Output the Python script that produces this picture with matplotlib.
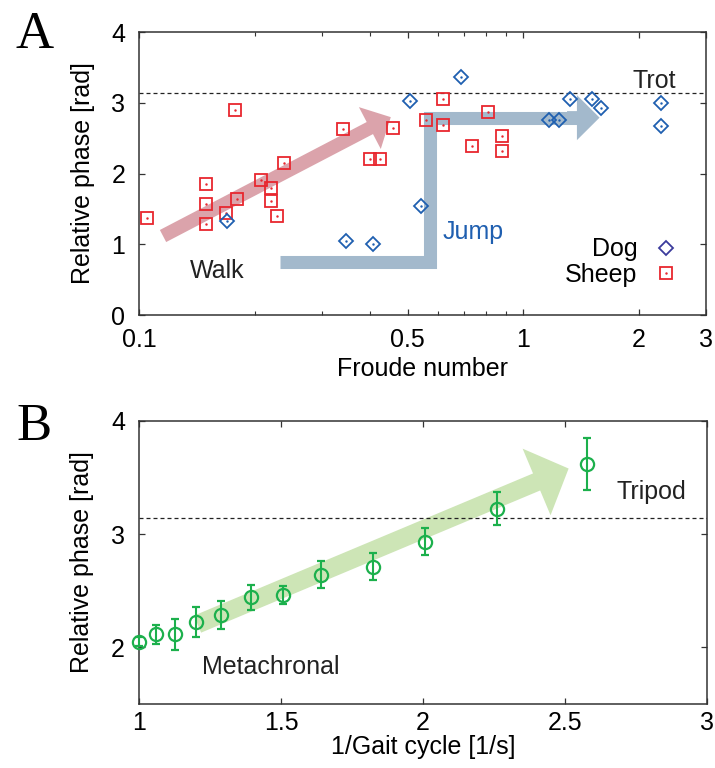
import matplotlib
matplotlib.use('Agg')
import matplotlib.pyplot as plt
import numpy as np
from matplotlib.lines import Line2D
from matplotlib.patches import FancyArrowPatch, ArrowStyle
from matplotlib.ticker import FixedLocator, NullFormatter

plt.rcParams['font.family'] = ['Liberation Sans', 'DejaVu Sans']
plt.rcParams['font.size'] = 18

# panel A: quadrupeds
sheep_fr = [0.105, 0.178, 0.149, 0.149, 0.149, 0.168, 0.180, 0.207, 0.220, 0.220, 0.229, 0.238,
            0.340, 0.399, 0.423, 0.458, 0.557, 0.618, 0.618, 0.810, 0.736, 0.880, 0.878]
sheep_ph = [1.375, 2.90, 1.85, 1.57, 1.28, 1.44, 1.64, 1.905, 1.80, 1.61, 1.40, 2.145,
            2.63, 2.205, 2.205, 2.64, 2.76, 3.056, 2.69, 2.863, 2.389, 2.53, 2.324]
dog_fr = [0.169, 0.345, 0.405, 0.508, 0.542, 0.688, 1.167, 1.242, 1.327, 1.509, 1.595, 2.288, 2.288]
dog_ph = [1.33, 1.05, 1.00, 3.03, 1.544, 3.37, 2.76, 2.76, 3.05, 3.05, 2.92, 3.0, 2.676]

# panel B: insect
gait_freq = [1.001, 1.060, 1.127, 1.200, 1.288, 1.393, 1.508, 1.641, 1.823, 2.007, 2.261, 2.576]
insect_ph = [2.048, 2.114, 2.114, 2.223, 2.285, 2.442, 2.462, 2.640, 2.711, 2.933, 3.225, 3.616]
insect_err = [0.04, 0.08, 0.135, 0.13, 0.12, 0.11, 0.083, 0.118, 0.118, 0.12, 0.146, 0.23]

xticks_a = [0.1, 0.5, 1, 2, 3]
xticklabels_a = ['0.1', '0.5', '1', '2', '3']
xminor_a = [0.2, 0.3, 0.4, 0.6, 0.7, 0.8, 0.9]

red = '#e8262e'
blue = '#1f5fb0'
green = '#1cb04c'
spine_c = '#333333'

fig = plt.figure(figsize=(7.15, 7.68), dpi=100)
axA = fig.add_axes([0.1948, 0.5898, 0.7933, 0.3685])
axB = fig.add_axes([0.1944, 0.0833, 0.7948, 0.3689])


def style_axes(ax, xpad):
    for s in ax.spines.values():
        s.set_color(spine_c)
        s.set_linewidth(1.1)
    ax.tick_params(which='both', direction='in', top=True, right=True, color=spine_c)
    ax.tick_params(which='major', length=4.5, width=0.9)
    ax.tick_params(which='minor', length=3, width=0.8)
    ax.tick_params(axis='x', pad=xpad)
    ax.tick_params(axis='y', pad=10)


# ---- A ----
axA.set_xscale('log')
axA.set_xlim(0.1, 3)
axA.set_ylim(0, 4)
axA.set_xticks(xticks_a)
axA.set_xticklabels(xticklabels_a)
axA.xaxis.set_minor_locator(FixedLocator(xminor_a))
axA.xaxis.set_minor_formatter(NullFormatter())
axA.set_yticks([0, 1, 2, 3, 4])
style_axes(axA, 9)

axA.axhline(np.pi, color='#222222', lw=0.9, dashes=(3.2, 2.4), zorder=2)

# walk arrow
axA.add_patch(FancyArrowPatch((0.1153, 1.117), (0.4518, 2.797),
                              arrowstyle=ArrowStyle.Simple(head_length=17, head_width=34, tail_width=9.8),
                              mutation_scale=1, shrinkA=0, shrinkB=0,
                              color='#dba3ab', lw=0, zorder=1))
# jump / trot step arrow
step_x = [0.233, 0.5713, 0.5713, 1.40]
step_y = [0.755, 0.755, 2.79, 2.79]
axA.plot(step_x, step_y, color='#a3b9cc', lw=9.4, solid_joinstyle='miter',
         solid_capstyle='butt', zorder=1)
axA.add_patch(FancyArrowPatch((1.30, 2.79), (1.58, 2.79),
                              arrowstyle=ArrowStyle.Simple(head_length=16.3, head_width=32.4, tail_width=9.4),
                              mutation_scale=1, shrinkA=0, shrinkB=0,
                              color='#a3b9cc', lw=0, zorder=1))

axA.plot(sheep_fr, sheep_ph, ls='', marker='s', ms=9, mfc='none', mec=red, mew=1.3, zorder=3)
axA.plot(sheep_fr, sheep_ph, ls='', marker='.', ms=1.5, color=red, zorder=3)
axA.plot(dog_fr, dog_ph, ls='', marker='D', ms=6.8, mfc='none', mec=blue, mew=1.3, zorder=3)
axA.plot(dog_fr, dog_ph, ls='', marker='.', ms=1.5, color=blue, zorder=3)

axA.text(2.5, 3.21, 'Trot', ha='right', va='baseline', color='#222222')
axA.text(0.1356, 0.525, 'Walk', ha='left', va='baseline', color='#222222')
axA.text(0.618, 1.07, 'Jump', ha='left', va='baseline', color=blue)

h_dog = Line2D([], [], ls='', marker='D', ms=6.8, mfc='none', mec='#3b3b9c', mew=1.3)
h_sheep = (Line2D([], [], ls='', marker='s', ms=9, mfc='none', mec=red, mew=1.3),
           Line2D([], [], ls='', marker='.', ms=1.5, color=red))
axA.legend([h_dog, h_sheep], ['Dog', 'Sheep'], loc='center right', bbox_to_anchor=(0.95, 0.187),
           frameon=False, markerfirst=False, handlelength=1.0, handletextpad=0.64,
           labelspacing=0.05, borderpad=0, borderaxespad=0)

axA.set_xlabel('Froude number', labelpad=4)
axA.set_ylabel('Relative phase [rad]', labelpad=12)

# ---- B ----
axB.set_xlim(1, 3)
axB.set_ylim(1.5, 4)
axB.set_xticks([1, 1.5, 2, 2.5, 3])
axB.set_xticklabels(['1', '1.5', '2', '2.5', '3'])
axB.set_yticks([2, 3, 4])
style_axes(axB, 5)

axB.axhline(np.pi, color='#222222', lw=0.9, dashes=(3.2, 2.4), zorder=2)
axB.add_patch(FancyArrowPatch((1.206, 2.205), (2.512, 3.578),
                              arrowstyle=ArrowStyle.Simple(head_length=25, head_width=52, tail_width=13.3),
                              mutation_scale=1, shrinkA=0, shrinkB=0,
                              color='#cde5b6', lw=0, zorder=1))
eb = axB.errorbar(gait_freq, insect_ph, yerr=insect_err, ls='', marker='o', ms=9.5, mfc='none',
                  mec=green, mew=1.6, ecolor=green, elinewidth=1.5, capsize=3, capthick=1.5, zorder=3)
for art in eb.get_children():
    art.set_clip_on(False)

axB.text(2.68, 3.311, 'Tripod', ha='left', va='baseline', color='#222222')
axB.text(1.221, 1.764, 'Metachronal', ha='left', va='baseline', color='#222222')

axB.set_xlabel('1/Gait cycle [1/s]', labelpad=0)
axB.set_ylabel('Relative phase [rad]', labelpad=12)

fig.text(0.021, 0.937, 'A', family=['Liberation Serif', 'DejaVu Serif'], fontsize=38, va='baseline')
fig.text(0.023, 0.427, 'B', family=['Liberation Serif', 'DejaVu Serif'], fontsize=38, va='baseline')

fig.savefig('out.png', dpi=100)
